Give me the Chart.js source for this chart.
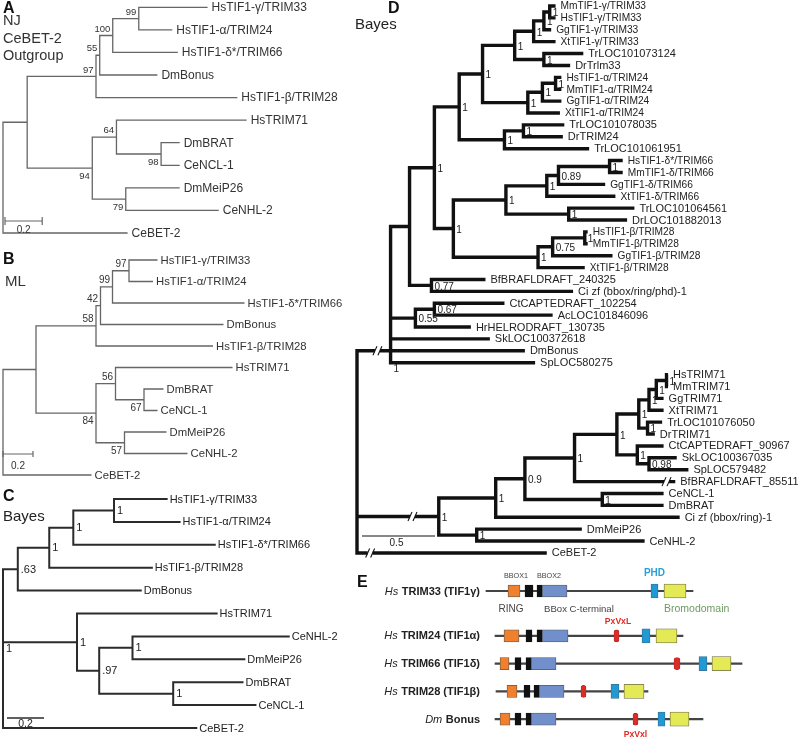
<!DOCTYPE html>
<html>
<head>
<meta charset="utf-8">
<script src="https://cdn.jsdelivr.net/npm/chart.js@4.4.1/dist/chart.umd.min.js"></script>
<style>
  html, body { margin: 0; padding: 0; background: #fff; }
  #fig { position: relative; width: 798px; height: 739px; overflow: hidden; }
  #fig canvas { position: absolute; }
</style>
</head>
<body>
<div id="fig">
  <canvas id="panelA"></canvas>
  <canvas id="panelB"></canvas>
  <canvas id="panelC"></canvas>
  <canvas id="panelD"></canvas>
  <canvas id="panelE1"></canvas>
  <canvas id="panelE2"></canvas>
</div>
<script>
// ---- tree helpers: L = leaf (name, distance from root), N = node (distance, support, children)
const L = (name, d, opt) => Object.assign({ name, d }, opt);
const N = (d, s, kids, opt) => Object.assign({ d, s, kids }, opt);

// ---- A: neighbour joining, CeBET-2 outgroup
const treeNJ = N(0, null, [
  N(0.13, null, [
    N(0.50, '97', [
      N(0.52, '55', [
        N(0.59, '100', [
          N(0.73, '99', [L('HsTIF1-γ/TRIM33', 1.10), L('HsTIF1-α/TRIM24', 0.91)]),
          L('HsTIF1-δ*/TRIM66', 0.94)
        ]),
        L('DmBonus', 0.83)
      ]),
      L('HsTIF1-β/TRIM28', 1.26)
    ]),
    N(0.48, '94', [
      N(0.61, '64', [
        L('HsTRIM71', 1.31),
        N(0.85, '98', [L('DmBRAT', 0.95), L('CeNCL-1', 0.95)])
      ]),
      N(0.66, '79', [L('DmMeiP26', 0.95), L('CeNHL-2', 1.16)])
    ])
  ]),
  L('CeBET-2', 0.67)
]);

// ---- B: maximum likelihood
const treeML = N(0, null, [
  N(0.22, null, [
    N(0.62, '58', [
      N(0.65, '42', [
        N(0.73, '99', [
          N(0.84, '97', [L('HsTIF1-γ/TRIM33', 1.03), L('HsTIF1-α/TRIM24', 1.00)]),
          L('HsTIF1-δ*/TRIM66', 1.61)
        ]),
        L('DmBonus', 1.47)
      ]),
      L('HsTIF1-β/TRIM28', 1.40)
    ]),
    N(0.62, '84', [
      N(0.75, '56', [
        L('HsTRIM71', 1.53),
        N(0.94, '67', [L('DmBRAT', 1.07), L('CeNCL-1', 1.03)])
      ]),
      N(0.81, '57', [L('DmMeiP26', 1.09), L('CeNHL-2', 1.23)])
    ])
  ]),
  L('CeBET-2', 0.59)
]);

// ---- C: Bayes, small set
const treeBayes = N(0, '1', [
  N(0.08, '.63', [
    N(0.25, '1', [
      N(0.38, '1', [
        N(0.60, '1', [L('HsTIF1-γ/TRIM33', 0.89), L('HsTIF1-α/TRIM24', 0.96)]),
        L('HsTIF1-δ*/TRIM66', 1.15)
      ]),
      L('HsTIF1-β/TRIM28', 0.81)
    ]),
    L('DmBonus', 0.75)
  ]),
  N(0.40, '1', [
    L('HsTRIM71', 1.16),
    N(0.52, '.97', [
      N(0.70, '1', [L('CeNHL-2', 1.55), L('DmMeiP26', 1.31)]),
      N(0.92, '1', [L('DmBRAT', 1.30), L('CeNCL-1', 1.37)])
    ])
  ]),
  L('CeBET-2', 1.05)
]);

// ---- D: Bayes, full set (cut = position of a // break on the branch)
const treeBayesFull = N(0, null, [
  N(0.23, '1', [
    N(0.36, null, [
      N(0.53, '1', [
        N(0.70, '1', [
          N(0.86, '1', [
            N(1.08, '1', [
              N(1.21, '1', [
                N(1.28, '1', [
                  N(1.32, '1', [L('MmTIF1-γ/TRIM33', 1.36), L('HsTIF1-γ/TRIM33', 1.36)]),
                  L('GgTIF1-γ/TRIM33', 1.33)
                ]),
                L('XtTIF1-γ/TRIM33', 1.36)
              ]),
              N(1.28, '1', [L('TrLOC101073124', 1.55), L('DrTrlm33', 1.46)])
            ]),
            N(1.17, '1', [
              N(1.27, '1', [
                N(1.36, '1', [L('HsTIF1-α/TRIM24', 1.40), L('MmTIF1-α/TRIM24', 1.40)]),
                L('GgTIF1-α/TRIM24', 1.40)
              ]),
              L('XtTIF1-α/TRIM24', 1.39)
            ])
          ]),
          N(1.01, '1', [
            N(1.14, '1', [L('TrLOC101078035', 1.42), L('DrTRIM24', 1.41)]),
            L('TrLOC101061951', 1.59)
          ])
        ]),
        N(0.66, '1', [
          N(1.02, '1', [
            N(1.30, '1', [
              N(1.38, '0.89', [
                N(1.73, '1', [L('HsTIF1-δ*/TRIM66', 1.82), L('MmTIF1-δ/TRIM66', 1.82)]),
                L('GgTIF1-δ/TRIM66', 1.70)
              ]),
              L('XtTIF1-δ/TRIM66', 1.77)
            ]),
            N(1.45, '1', [L('TrLOC101064561', 1.90), L('DrLOC101882013', 1.85)])
          ]),
          N(1.24, '1', [
            N(1.34, '0.75', [
              N(1.56, '1', [L('HsTIF1-β/TRIM28', 1.58), L('MmTIF1-β/TRIM28', 1.58)]),
              L('GgTIF1-β/TRIM28', 1.75)
            ]),
            L('XtTIF1-β/TRIM28', 1.56)
          ])
        ])
      ]),
      N(0.51, '0.77', [L('BfBRAFLDRAFT_240325', 0.88), L('Ci zf (bbox/ring/phd)-1', 1.48)])
    ]),
    N(0.40, '0.55', [
      N(0.53, '0.67', [L('CtCAPTEDRAFT_102254', 1.01), L('AcLOC101846096', 1.34)]),
      L('HrHELRODRAFT_130735', 0.78)
    ]),
    L('SkLOC100372618', 0.91),
    L('DmBonus', 1.15),
    L('SpLOC580275', 1.22)
  ], { join: 3, cut: 0.14 }),
  N(0.56, '1', [
    N(0.95, '1', [
      N(1.15, '0.9', [
        N(1.49, '1', [
          N(1.78, '1', [
            N(1.93, '1', [
              N(2.00, '1', [
                N(2.05, '1', [
                  N(2.12, '1', [L('HsTRIM71', 2.13), L('MmTRIM71', 2.13)]),
                  L('GgTRIM71', 2.10)
                ]),
                L('XtTRIM71', 2.10)
              ]),
              N(1.99, '1', [L('TrLOC101076050', 2.09), L('DrTRIM71', 2.04)])
            ]),
            N(1.92, '1', [
              L('CtCAPTEDRAFT_90967', 2.10),
              N(2.00, '0.98', [L('SkLOC100367035', 2.19), L('SpLOC579482', 2.27)])
            ])
          ]),
          L('BfBRAFLDRAFT_85511', 2.18, { cut: 2.12 })
        ]),
        N(1.68, '1', [L('CeNCL-1', 2.10), L('DmBRAT', 2.10)])
      ]),
      L('Ci zf (bbox/ring)-1', 2.21)
    ]),
    N(0.82, '1', [L('DmMeiP26', 1.54), L('CeNHL-2', 1.97)])
  ], { cut: 0.38 }),
  L('CeBET-2', 1.30, { cut: 0.09 })
]);

// ---- E: domain architecture (schematic positions)
const proteins = ['TRIM33', 'TRIM24', 'TRIM66', 'TRIM28', 'Bonus'];
const species = ['Hs', 'Hs', 'Hs', 'Hs', 'Dm'];
const aliases = ['(TIF1γ)', '(TIF1α)', '(TIF1δ)', '(TIF1β)', ''];
const proteinSpan = [[6, 213], [15, 203], [15, 262], [16, 168], [15, 223]];
const ringDomain = [[28, 40], [24, 39], [20, 29], [27, 37], [20, 30]];
const bbox1Domain = [[45, 53], [46, 52], [35, 41], [44, 50], [35, 41]];
const bbox2Domain = [[57, 62], [57, 62], [46, 51], [54, 59], [46, 51]];
const bboxCtermDomain = [[62, 87], [62, 88], [51, 76], [59, 84], [51, 76]];
const pxvxlMotif = [null, [134, 139], [194, 200], [101, 106], [153, 158]];
const phdDomain = [[171, 178], [162, 170], [219, 227], [131, 139], [178, 185]];
const bromoDomain = [[184, 206], [176, 197], [232, 251], [144, 164], [190, 209]];

const FONT = '"Liberation Sans", Arial, Helvetica, sans-serif';
const font = (size, weight = 'normal', style = 'normal') => `${style} ${weight} ${size}px ${FONT}`;

function place(id, box) {
  const c = document.getElementById(id);
  c.width = box.w;
  c.height = box.h;
  Object.assign(c.style, { left: box.x + 'px', top: box.y + 'px', width: box.w + 'px', height: box.h + 'px' });
  return c;
}

function layoutTree(root) {
  const leaves = [], nodes = [];
  (function walk(n, first) {
    n.first = first;
    if (n.kids) {
      n.kids.forEach((k, i) => walk(k, i === 0));
      const a = n.kids[0].y, b = n.kids[n.kids.length - 1].y;
      n.y = n.join != null ? n.kids[n.join].y : (a + b) / 2;
    } else {
      n.y = leaves.length;
      leaves.push(n);
    }
    nodes.push(n);
  })(root, true);
  return { leaves, nodes };
}

function treeSegments(nodes) {
  const pts = [];
  const gap = { x: null, y: null };
  nodes.filter(n => n.kids).forEach(n => {
    const f = n.kids[0], l = n.kids[n.kids.length - 1];
    pts.push({ x: f.d, y: f.y }, { x: n.d, y: f.y }, { x: n.d, y: l.y }, { x: l.d, y: l.y }, gap);
    n.kids.slice(1, -1).forEach(k => pts.push({ x: n.d, y: k.y }, { x: k.d, y: k.y }, gap));
  });
  return pts;
}

function treeLabels(leaves, nodes, st) {
  return {
    id: 'treeLabels',
    afterDatasetsDraw(chart) {
      const { ctx } = chart;
      const X = v => chart.scales.x.getPixelForValue(v);
      const Y = v => chart.scales.y.getPixelForValue(v);
      const ox = st.box.x, oy = st.box.y;
      ctx.save();

      // broken branches
      nodes.filter(n => n.cut != null).forEach(n => {
        const px = X(n.cut), py = Y(n.y);
        ctx.fillStyle = '#fff';
        ctx.fillRect(px - 2.5, py - st.lw, 5, st.lw * 2);
        ctx.strokeStyle = st.line;
        ctx.lineWidth = 1.1;
        [-2.5, 2.5].forEach(k => {
          ctx.beginPath();
          ctx.moveTo(px + k - 2, py + 4.5);
          ctx.lineTo(px + k + 2, py - 4.5);
          ctx.stroke();
        });
      });

      ctx.fillStyle = st.text;
      ctx.textBaseline = 'middle';
      ctx.textAlign = 'left';
      leaves.forEach(n => {
        const small = st.smallTip && st.smallTip.test(n.name);
        ctx.font = font(small ? st.tipSmallSize : st.tipSize);
        ctx.fillText(n.name, X(n.d) + st.tipGap, Y(n.y) + 0.5);
      });

      ctx.font = font(st.supSize);
      nodes.filter(n => n.kids && n.s).forEach(n => {
        if (st.supMode === 'left') {
          ctx.textAlign = 'right';
          ctx.fillText(n.s, X(n.d) - 2.5, Y(n.y) + (n.first ? -6.5 : 8.5));
        } else {
          ctx.textAlign = 'left';
          const py = n.join != null ? Y(n.kids[n.kids.length - 1].y) + 7 : Y(n.y) + st.supDy;
          ctx.fillText(n.s, X(n.d) + 3, py);
        }
      });

      // scale bar
      const b = st.bar;
      const len = X(b.len) - X(0);
      const bx = b.x - ox, by = b.y - oy;
      ctx.strokeStyle = st.line;
      ctx.lineWidth = b.lw;
      ctx.beginPath();
      ctx.moveTo(bx, by);
      ctx.lineTo(bx + len, by);
      if (b.tick) {
        ctx.moveTo(bx, by - b.tick); ctx.lineTo(bx, by + b.tick);
        ctx.moveTo(bx + len, by - b.tick); ctx.lineTo(bx + len, by + b.tick);
      }
      ctx.stroke();
      ctx.textAlign = 'center';
      ctx.font = font(b.size);
      ctx.fillText(b.label, bx + len / 2 + (b.dx || 0), b.ly - oy);

      // panel titles
      ctx.textAlign = 'left';
      st.titles.forEach(t => {
        ctx.font = font(t.size, t.bold ? 'bold' : 'normal');
        ctx.fillStyle = t.bold ? '#111' : st.text;
        ctx.fillText(t.t, t.x - ox, t.y - oy);
      });
      ctx.restore();
    }
  };
}

function drawTreePanel(id, root, st) {
  const { leaves, nodes } = layoutTree(root);
  const box = st.box;
  const canvas = place(id, box);
  const xMin = -(st.rootX - box.x) / st.ppu;
  const yMin = -(st.leafY0 - box.y) / st.leafDy;
  return new Chart(canvas, {
    type: 'scatter',
    data: {
      datasets: [{
        data: treeSegments(nodes),
        showLine: true,
        spanGaps: false,
        borderColor: st.line,
        borderWidth: st.lw,
        borderJoinStyle: 'miter',
        borderCapStyle: 'butt',
        pointRadius: 0,
        tension: 0
      }]
    },
    options: {
      responsive: false,
      animation: false,
      events: [],
      layout: { padding: 0 },
      plugins: { legend: { display: false }, tooltip: { enabled: false } },
      scales: {
        x: { type: 'linear', display: false, bounds: 'data', min: xMin, max: xMin + box.w / st.ppu },
        y: { type: 'linear', display: false, bounds: 'data', reverse: true, min: yMin, max: yMin + box.h / st.leafDy }
      }
    },
    plugins: [treeLabels(leaves, nodes, st)]
  });
}

drawTreePanel('panelA', treeNJ, {
  box: { x: 0, y: 0, w: 352, h: 245 },
  rootX: 3, ppu: 186, leafY0: 7.3, leafDy: 22.57,
  line: '#666', lw: 1.3, text: '#333',
  tipSize: 12, tipGap: 4, supSize: 9.5, supMode: 'left',
  bar: { x: 5, y: 221, len: 0.2, label: '0.2', ly: 230, tick: 4, lw: 1.2, size: 10 },
  titles: [
    { t: 'A', x: 3, y: 8.5, size: 16, bold: true },
    { t: 'NJ', x: 3, y: 21, size: 14.5 },
    { t: 'CeBET-2', x: 3, y: 39, size: 14.5 },
    { t: 'Outgroup', x: 3, y: 56, size: 14.5 }
  ]
});

drawTreePanel('panelB', treeML, {
  box: { x: 0, y: 245, w: 352, h: 240 },
  rootX: 3, ppu: 150, leafY0: 260, leafDy: 21.5,
  line: '#666', lw: 1.3, text: '#333',
  tipSize: 11.3, tipGap: 3, supSize: 10, supMode: 'left',
  bar: { x: 3, y: 454, len: 0.2, label: '0.2', ly: 466, tick: 3, lw: 1.2, size: 10 },
  titles: [
    { t: 'B', x: 3, y: 260, size: 16, bold: true },
    { t: 'ML', x: 5, y: 282, size: 15 }
  ]
});

drawTreePanel('panelC', treeBayes, {
  box: { x: 0, y: 486, w: 352, h: 253 },
  rootX: 3, ppu: 185, leafY0: 499, leafDy: 22.9,
  line: '#2b2b2b', lw: 2, text: '#222',
  tipSize: 11, tipGap: 2, supSize: 11, supMode: 'right', supDy: 0.5,
  bar: { x: 7, y: 718, len: 0.2, label: '0.2', ly: 724, tick: 0, lw: 1.5, size: 10.5 },
  titles: [
    { t: 'C', x: 3, y: 497, size: 16, bold: true },
    { t: 'Bayes', x: 3, y: 517, size: 15 }
  ]
});

drawTreePanel('panelD', treeBayesFull, {
  box: { x: 350, y: 0, w: 448, h: 562 },
  rootX: 357, ppu: 146, leafY0: 6, leafDy: 11.89,
  line: '#111', lw: 3.4, text: '#222',
  tipSize: 11, tipSmallSize: 10.2, smallTip: /TIF1/, tipGap: 5,
  supSize: 10, supMode: 'right', supDy: 1.5,
  bar: { x: 362, y: 536, len: 0.5, label: '0.5', ly: 543, tick: 0, lw: 1, size: 10, dx: -2 },
  titles: [
    { t: 'D', x: 388, y: 8.5, size: 16, bold: true },
    { t: 'Bayes', x: 355, y: 25, size: 15 }
  ]
});

// ---- panel E: floating horizontal bars per domain
const DIAGRAM_X0 = 480;

function domainLabels(rows, box, extra) {
  return {
    id: 'domainLabels',
    afterDatasetsDraw(chart) {
      const { ctx } = chart;
      const X = v => chart.scales.x.getPixelForValue(v);
      const Y = i => chart.scales.y.getPixelForValue(i);
      ctx.save();
      ctx.textBaseline = 'middle';
      rows.forEach((r, i) => {
        const y = Y(i) + 0.5;
        const name = (proteins[r] + ' ' + aliases[r]).trim();
        ctx.textAlign = 'right';
        ctx.fillStyle = '#222';
        ctx.font = font(11, 'bold');
        ctx.fillText(name, X(0), y);
        const w = ctx.measureText(name).width;
        ctx.font = font(11, 'normal', 'italic');
        ctx.fillText(species[r], X(0) - w - 3.5, y);
      });
      extra(chart, ctx, box);
      ctx.restore();
    }
  };
}

function barEl(chart, label, row) {
  const idx = chart.data.datasets.findIndex(d => d.label === label);
  return chart.getDatasetMeta(idx).data[row];
}

function drawDomainPanel(id, box, rows, pad, extra) {
  const canvas = place(id, box);
  const pick = arr => rows.map(i => arr[i]);
  const ds = (label, arr, color, thick, opt) => Object.assign({
    label, data: pick(arr), backgroundColor: color, borderColor: '#5a5a5a', borderWidth: 0.8,
    barThickness: thick, grouped: false, borderSkipped: false, order: 1
  }, opt);
  return new Chart(canvas, {
    type: 'bar',
    data: {
      labels: pick(proteins),
      datasets: [
        ds('RING', ringDomain, '#f0802b', 12),
        ds('BBOX1', bbox1Domain, '#111', 12, { borderColor: '#111' }),
        ds('BBOX2', bbox2Domain, '#111', 12, { borderColor: '#111' }),
        ds('BBox C-terminal', bboxCtermDomain, '#7190cb', 12),
        ds('PxVxL', pxvxlMotif, '#dc2c28', 12, { borderColor: '#a52020', borderWidth: 0.6, borderRadius: 3 }),
        ds('PHD', phdDomain, '#1f9ad5', 14, { borderColor: '#3b6f8a' }),
        ds('Bromodomain', bromoDomain, '#e3ea55', 14, { borderColor: '#6b6b4a' }),
        ds('protein', proteinSpan, '#444', 1.4, { borderWidth: 0, order: 2 })
      ]
    },
    options: {
      indexAxis: 'y',
      responsive: false,
      animation: false,
      events: [],
      layout: { padding: pad },
      plugins: { legend: { display: false }, tooltip: { enabled: false } },
      scales: {
        x: { type: 'linear', display: false, bounds: 'data', min: box.x - DIAGRAM_X0, max: box.x - DIAGRAM_X0 + box.w },
        y: { display: false }
      }
    },
    plugins: [domainLabels(rows, box, extra)]
  });
}

const boxE1 = { x: 350, y: 562, w: 448, h: 58 };
drawDomainPanel('panelE1', boxE1, [0], { top: 0, bottom: 0, left: 0, right: 0 }, (chart, ctx, box) => {
  ctx.textAlign = 'left';
  ctx.fillStyle = '#111';
  ctx.font = font(16, 'bold');
  ctx.fillText('E', 357 - box.x, 583 - box.y);

  const ring = barEl(chart, 'RING', 0), b1 = barEl(chart, 'BBOX1', 0), b2 = barEl(chart, 'BBOX2', 0);
  const ct = barEl(chart, 'BBox C-terminal', 0), phd = barEl(chart, 'PHD', 0), bro = barEl(chart, 'Bromodomain', 0);
  const top = ring.y - 6, bottom = ring.y + 6;

  ctx.fillStyle = '#444';
  ctx.font = font(7.2);
  ctx.textAlign = 'right';
  ctx.fillText('BBOX1', b1.x - 5, top - 9);
  ctx.textAlign = 'left';
  ctx.fillText('BBOX2', b2.base, top - 9);

  ctx.font = font(10);
  ctx.textAlign = 'center';
  ctx.fillText('RING', (ring.x + ring.base) / 2 - 3, bottom + 12);
  ctx.textAlign = 'left';
  ctx.font = font(9.6);
  ctx.fillText('BBox C-terminal', ct.base + 2, bottom + 12);
  ctx.fillStyle = '#6c9c62';
  ctx.font = font(10.5);
  ctx.fillText('Bromodomain', bro.base, bottom + 12);

  ctx.fillStyle = '#2aa0d6';
  ctx.font = font(10, 'bold');
  ctx.textAlign = 'center';
  ctx.fillText('PHD', (phd.x + phd.base) / 2, top - 12);
});

const boxE2 = { x: 350, y: 606, w: 448, h: 133 };
drawDomainPanel('panelE2', boxE2, [1, 2, 3, 4], { top: 16, bottom: 6, left: 0, right: 0 }, (chart, ctx) => {
  const m1 = barEl(chart, 'PxVxL', 0), m4 = barEl(chart, 'PxVxL', 3);
  ctx.fillStyle = '#e02b26';
  ctx.font = font(8.6, 'bold');
  ctx.textAlign = 'center';
  ctx.fillText('PxVxL', (m1.x + m1.base) / 2 + 1.5, m1.y - 14);
  ctx.fillText('PxVxl', (m4.x + m4.base) / 2, m4.y + 15);
});
</script>
</body>
</html>
